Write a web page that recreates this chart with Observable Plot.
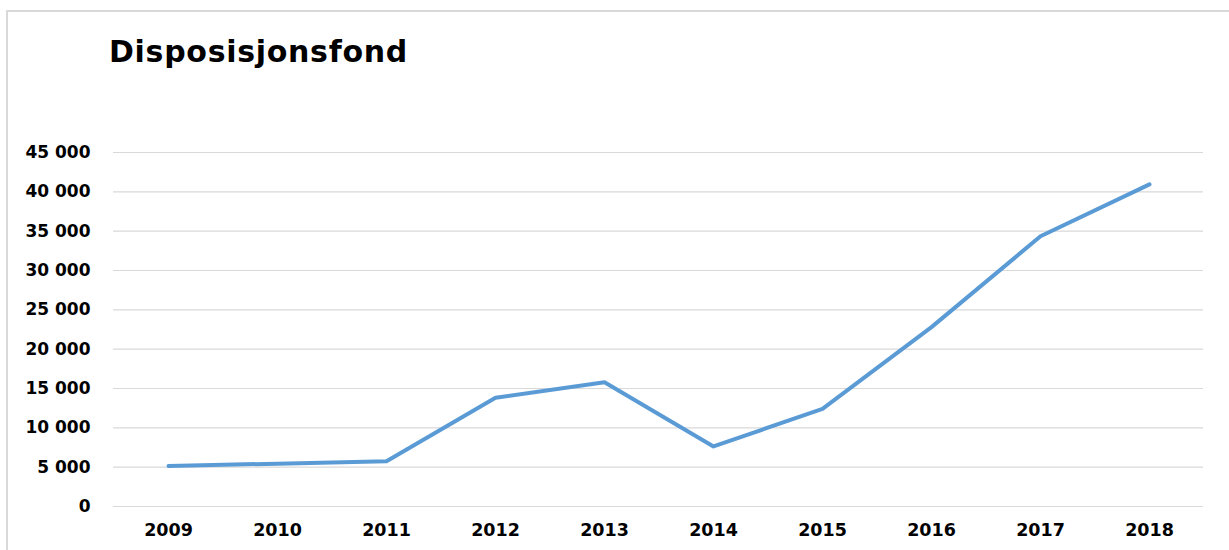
<!DOCTYPE html>
<html>
<head>
<meta charset="utf-8">
<script src="https://cdn.jsdelivr.net/npm/d3@7"></script>
<script src="https://cdn.jsdelivr.net/npm/@observablehq/plot@0.6"></script>
<style>
  html, body { margin: 0; padding: 0; background: #fff; }
  #wrap { position: relative; width: 1229px; height: 550px; overflow: hidden; }
  #frame { position: absolute; left: 6px; top: 10px; width: 1240px; height: 560px; border-left: 2px solid #d9d9d9; border-top: 2px solid #d9d9d9; box-sizing: border-box; }
  #title { position: absolute; left: 109px; top: 32px; font-family: "DejaVu Sans", sans-serif; font-weight: bold; font-size: 30px; letter-spacing: 0.7px; line-height: 40px; color: #000; white-space: nowrap; }
  #chart { position: absolute; left: 0; top: 100px; }
</style>
</head>
<body>
<div id="wrap">
  <div id="frame"></div>
  <div id="title">Disposisjonsfond</div>
  <div id="chart"></div>
</div>
<script>
const years = ["2009", "2010", "2011", "2012", "2013", "2014", "2015", "2016", "2017", "2018"];
const values = [5150, 5450, 5750, 13820, 15800, 7630, 12420, 22800, 34350, 40950];
const yTicks = [0, 5000, 10000, 15000, 20000, 25000, 30000, 35000, 40000, 45000];

const data = years.map((y, i) => ({year: y, value: values[i]}));
const fmt = d => d3.format(",")(d).replace(/,/g, " ");

const chart = Plot.plot({
  width: 1229,
  height: 450,
  marginTop: 52,
  marginBottom: 44,
  marginLeft: 113,
  marginRight: 26,
  style: {fontFamily: "DejaVu Sans, sans-serif", fontWeight: "bold", color: "#000", background: "transparent"},
  x: {type: "point", domain: years, padding: 0.5, label: null},
  y: {domain: [0, 45000], label: null},
  marks: [
    Plot.gridY(yTicks, {stroke: "#d9d9d9", strokeOpacity: 1, strokeWidth: 1.2}),
    Plot.axisY(yTicks, {tickSize: 0, tickPadding: 23, tickFormat: fmt, fontSize: 17, fontWeight: "bold", fill: "#000"}),
    Plot.axisX(years, {tickSize: 0, tickPadding: 17, fontSize: 17.5, fontWeight: "bold", fill: "#000"}),
    Plot.line(data, {x: "year", y: "value", stroke: "#5b9bd5", strokeWidth: 4, strokeLinejoin: "round", strokeLinecap: "round"})
  ]
});
document.getElementById("chart").appendChild(chart);
</script>
</body>
</html>
